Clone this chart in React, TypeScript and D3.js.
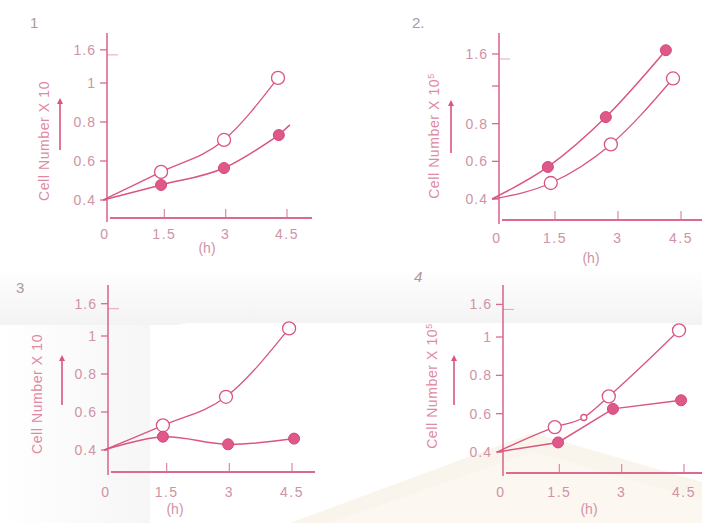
import React from "react";
import * as d3 from "d3";

// ---- data ----
const panelLabels = ["1", "2.", "3", "4"];
const xTickValues = [0, 1.5, 3, 4.5];
const xTickLabels = ["0", "1.5", "3", "4.5"];
const yTickValues = [0.4, 0.6, 0.8, 1.0, 1.17];
const yTickLabelsA = ["0.4", "0.6", "0.8", "1", "1.6"];
const yTickLabelsB = ["0.4", "0.6", "0.8", "", "1.6"];

const p1OpenX = [0, 1.42, 2.96, 4.28];
const p1OpenY = [0.4, 0.544, 0.708, 1.026];
const p1FilledX = [0, 1.42, 2.96, 4.3];
const p1FilledY = [0.4, 0.477, 0.564, 0.733];
const p1TailX = [4.3, 4.57];
const p1TailY = [0.733, 0.785];

const p2OpenX = [0, 1.4, 2.83, 4.31];
const p2OpenY = [0.4, 0.485, 0.69, 1.04];
const p2FilledX = [0, 1.33, 2.71, 4.14];
const p2FilledY = [0.4, 0.57, 0.835, 1.19];

const p3OpenX = [0, 1.41, 2.92, 4.43];
const p3OpenY = [0.4, 0.53, 0.68, 1.04];
const p3FilledX = [0, 1.41, 2.97, 4.55];
const p3FilledY = [0.4, 0.47, 0.43, 0.46];

const p4OpenX = [0, 1.39, 2.09, 2.69, 4.38];
const p4OpenY = [0.4, 0.53, 0.58, 0.69, 1.035];
const p4FilledX = [0, 1.47, 2.79, 4.43];
const p4FilledY = [0.4, 0.45, 0.625, 0.67];

const zip = (xs: number[], ys: number[]) => xs.map((x, i) => [x, ys[i]] as [number, number]);

// ---- layout (pixels) ----
const layouts = [
  { x0: 103, x45: 287, y04: 200, y10: 83, axisX: 107, axisTop: 33, axisBottom: 222, xAxisY: 218, xEnd: 312,
    label: [30, 28], ylab: [44, 141], arrow: [60, 150, 98], xlabY: 239, hPos: [207, 253], sup: false, yLabels: yTickLabelsA },
  { x0: 492, x45: 681, y04: 199, y10: 86, axisX: 499, axisTop: 33, axisBottom: 224, xAxisY: 220, xEnd: 702,
    label: [412, 28], ylab: [434, 136], arrow: [451, 153, 100], xlabY: 243, hPos: [591, 263], sup: true, yLabels: yTickLabelsB },
  { x0: 104, x45: 292, y04: 450, y10: 336, axisX: 108, axisTop: 285, axisBottom: 475, xAxisY: 472, xEnd: 315,
    label: [16, 293], ylab: [37, 394], arrow: [62, 405, 355], xlabY: 497, hPos: [175, 514], sup: false, yLabels: yTickLabelsA },
  { x0: 497, x45: 684, y04: 452, y10: 337, axisX: 503, axisTop: 285, axisBottom: 476, xAxisY: 473, xEnd: 702,
    label: [414, 282], ylab: [432, 386], arrow: [454, 405, 355], xlabY: 497, hPos: [589, 514], sup: true, yLabels: yTickLabelsA },
];

const panels = [
  { open: zip(p1OpenX, p1OpenY), filled: zip(p1FilledX, p1FilledY), tail: zip(p1TailX, p1TailY), filledCurve: "smooth" },
  { open: zip(p2OpenX, p2OpenY), filled: zip(p2FilledX, p2FilledY), tail: [] as [number, number][], filledCurve: "smooth" },
  { open: zip(p3OpenX, p3OpenY), filled: zip(p3FilledX, p3FilledY), tail: [] as [number, number][], filledCurve: "catmull" },
  { open: zip(p4OpenX, p4OpenY), filled: zip(p4FilledX, p4FilledY), tail: [] as [number, number][], filledCurve: "linear" },
];

const LINE = "#d9567f";
const AXIS = "#dc6a8e";
const TEXT = "#cf93a6";
const FONT = "'Liberation Sans', Arial, sans-serif";

function Panel({ idx }: { idx: number }) {
  const L = layouts[idx];
  const P = panels[idx];
  const x = d3.scaleLinear().domain([0, 4.5]).range([L.x0, L.x45]);
  const y = d3.scaleLinear().domain([0.4, 1.0]).range([L.y04, L.y10]);
  const mk = (c: d3.CurveFactory) => d3.line<[number, number]>().x((d) => x(d[0])).y((d) => y(d[1])).curve(c);
  const smooth = mk(d3.curveMonotoneX);
  const filledLine =
    P.filledCurve === "linear" ? mk(d3.curveLinear) : P.filledCurve === "catmull" ? mk(d3.curveCatmullRom.alpha(0.5)) : smooth;
  const topY = y(yTickValues[yTickValues.length - 1]);
  return (
    <g>
      <text x={L.label[0]} y={L.label[1]} fontSize={15} fill="#a99a9d" fontFamily={FONT}
        fontStyle={idx === 3 ? "italic" : "normal"}>{panelLabels[idx]}</text>
      {/* axes */}
      <line x1={L.axisX} x2={L.axisX} y1={L.axisTop} y2={L.axisBottom} stroke={AXIS} strokeWidth={1.6} />
      <line x1={L.axisX + 3} x2={L.xEnd} y1={L.xAxisY} y2={L.xAxisY} stroke={AXIS} strokeWidth={2.2} />
      {/* y ticks */}
      {yTickValues.map((v, i) => (
        <g key={"yt" + i}>
          <line x1={L.axisX - 7} x2={L.axisX} y1={y(v)} y2={y(v)} stroke={AXIS} strokeWidth={1.3} />
          <text x={L.axisX - 11} y={y(v)} dy="0.35em" textAnchor="end" fontSize={14} letterSpacing={1}
            fill={TEXT} fontFamily={FONT}>
            {L.yLabels[i]}
          </text>
        </g>
      ))}
      <line x1={L.axisX} x2={L.axisX + 11} y1={topY + 5} y2={topY + 5} stroke={AXIS} strokeWidth={1} opacity={0.6} />
      {/* x ticks */}
      {xTickValues.map((v, i) => (
        <g key={"xt" + i}>
          {i > 0 && <line x1={x(v)} x2={x(v)} y1={L.xAxisY - 9} y2={L.xAxisY} stroke={AXIS} strokeWidth={1.2} opacity={0.8} />}
          <text x={i === 0 ? L.axisX - 2 : x(v)} y={L.xlabY} textAnchor="middle" fontSize={14} letterSpacing={1.5}
            fill={TEXT} fontFamily={FONT}>
            {xTickLabels[i]}
          </text>
        </g>
      ))}
      <text x={L.hPos[0]} y={L.hPos[1]} textAnchor="middle" fontSize={14} fill={TEXT} fontFamily={FONT}>(h)</text>
      {/* y label */}
      <text transform={`translate(${L.ylab[0]},${L.ylab[1]}) rotate(-90)`} textAnchor="middle" dy="0.35em"
        fontSize={14} letterSpacing={0.6} fill="#df8aa3" fontFamily={FONT}>
        Cell Number X 10{L.sup ? <tspan dy="-5" fontSize={9}>5</tspan> : null}
      </text>
      {/* arrow */}
      <line x1={L.arrow[0]} x2={L.arrow[0]} y1={L.arrow[1]} y2={L.arrow[2] + 4} stroke={LINE} strokeWidth={1.6} />
      <path d={`M${L.arrow[0] - 3},${L.arrow[2] + 6} L${L.arrow[0]},${L.arrow[2]} L${L.arrow[0] + 3},${L.arrow[2] + 6} Z`} fill={LINE} />
      {/* lines */}
      <path d={smooth(P.open) || ""} fill="none" stroke={LINE} strokeWidth={1.3} />
      <path d={filledLine(P.filled) || ""} fill="none" stroke={LINE} strokeWidth={1.5} />
      {P.tail.length > 0 && <path d={smooth(P.tail) || ""} fill="none" stroke={LINE} strokeWidth={1.5} />}
      {/* markers */}
      {P.open.slice(1).map((d, i) => (
        <circle key={"o" + i} cx={x(d[0])} cy={y(d[1])} r={idx === 3 && i === 1 ? 3 : 6.5} fill="#fff" stroke={LINE} strokeWidth={1.3} />
      ))}
      {P.filled.slice(1).map((d, i) => (
        <circle key={"f" + i} cx={x(d[0])} cy={y(d[1])} r={5.5} fill="#e0588a" stroke="#d04a78" strokeWidth={1} />
      ))}
    </g>
  );
}

export default function App() {
  return (
    <svg width={702} height={523} style={{ position: "absolute", left: 0, top: 0, background: "#fff" }}>
      <defs>
        <linearGradient id="band" x1="0" y1="0" x2="0" y2="1">
          <stop offset="0" stopColor="#ffffff" />
          <stop offset="1" stopColor="#f4f3f3" />
        </linearGradient>
        <linearGradient id="leftband" x1="0" y1="0" x2="1" y2="0">
          <stop offset="0" stopColor="#ffffff" />
          <stop offset="1" stopColor="#f7f6f6" />
        </linearGradient>
      </defs>
      <rect x={0} y={268} width={702} height={57} fill="url(#band)" />
      <rect x={0} y={325} width={150} height={198} fill="url(#leftband)" />
      <rect x={150} y={323} width={560} height={210} rx={40} fill="#ffffff" />
      <polygon points="290,523 533,433 702,482 702,523" fill="#faf5ec" />
      <polygon points="330,523 533,452 702,500 702,523" fill="#fcf8f1" />
      {[0, 1, 2, 3].map((i) => (
        <Panel key={i} idx={i} />
      ))}
    </svg>
  );
}
